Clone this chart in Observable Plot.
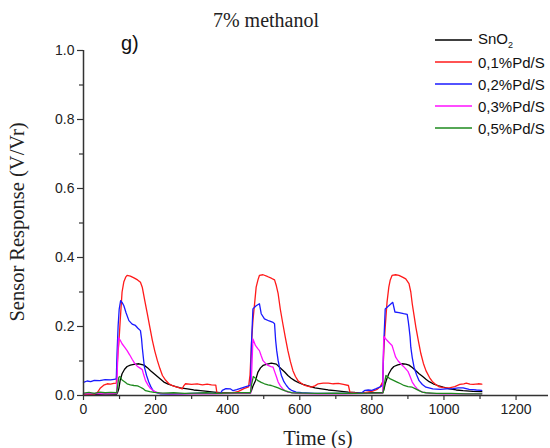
<!DOCTYPE html>
<html>
<head>
<meta charset="utf-8">
<script src="https://cdn.jsdelivr.net/npm/d3@7"></script>
<script src="https://cdn.jsdelivr.net/npm/@observablehq/plot@0.6"></script>
<style>
  html, body { margin: 0; padding: 0; background: #fff; }
  #wrap { position: relative; width: 550px; height: 448px; overflow: hidden; }
  .serif { font-family: "Liberation Serif", "Times New Roman", serif; color: #222; position: absolute; white-space: nowrap; }
  .sans { font-family: "Liberation Sans", Arial, sans-serif; color: #111; position: absolute; white-space: nowrap; }
  #legend { position: absolute; left: 435px; top: 29px; font-family: "Liberation Sans", Arial, sans-serif; font-size: 15px; color: #111; }
  #legend .row { display: flex; align-items: center; height: 22px; }
  #legend .row span { margin-left: 6px; }
</style>
</head>
<body>
<div id="wrap"></div>
<script>
// ---- data (time in s, response V/Vr) ----
const seriesNames = ["SnO2", "0,1%Pd/S", "0,2%Pd/S", "0,3%Pd/S", "0,5%Pd/S"];
const seriesColors = ["#000000", "#ff1a1a", "#1a1aff", "#ff10ff", "#1e8a1e"];
const xTicks = [0, 200, 400, 600, 800, 1000, 1200];
const xMinorTicks = [100, 300, 500, 700, 900, 1100];
const yTicks = [0, 0.2, 0.4, 0.6, 0.8, 1.0];
const yMinorTicks = [0.1, 0.3, 0.5, 0.7, 0.9];

const snO2 = [[0,0.004],[30,0.003],[60,0.004],[92,0.004],[95,0.01],[98,0.02],[102,0.045],[107,0.063],[114,0.076],[121,0.084],[130,0.088],[140,0.09],[154,0.092],[168,0.088],[178,0.08],[186,0.072],[196,0.063],[205,0.055],[214,0.047],[223,0.039],[235,0.033],[246,0.029],[258,0.025],[269,0.022],[288,0.019],[306,0.016],[325,0.014],[344,0.012],[362,0.01],[380,0.008],[420,0.007],[462,0.007],[466,0.014],[470,0.027],[477,0.043],[484,0.068],[491,0.08],[498,0.087],[510,0.091],[521,0.094],[535,0.091],[549,0.077],[558,0.068],[567,0.058],[576,0.05],[586,0.043],[597,0.037],[609,0.032],[625,0.027],[642,0.022],[660,0.019],[679,0.016],[698,0.014],[716,0.012],[735,0.01],[753,0.009],[790,0.008],[830,0.008],[833,0.015],[837,0.034],[842,0.05],[847,0.063],[854,0.076],[861,0.084],[872,0.089],[884,0.092],[894,0.091],[903,0.088],[912,0.081],[922,0.072],[931,0.063],[941,0.055],[950,0.047],[959,0.04],[970,0.034],[983,0.029],[998,0.024],[1015,0.019],[1034,0.016],[1053,0.014],[1080,0.012],[1105,0.011]];

const pd01 = [[0,0.003],[15,0.004],[30,0.004],[38,0.008],[47,0.022],[56,0.03],[66,0.034],[75,0.033],[84,0.035],[91,0.036],[93,0.08],[96,0.13],[98,0.15],[102,0.22],[107,0.3],[112,0.33],[117,0.343],[121,0.348],[130,0.346],[140,0.341],[150,0.335],[158,0.328],[163,0.314],[170,0.275],[177,0.237],[184,0.198],[191,0.16],[198,0.128],[205,0.101],[212,0.078],[219,0.058],[228,0.044],[237,0.034],[248,0.028],[260,0.024],[274,0.019],[278,0.028],[283,0.034],[300,0.032],[315,0.034],[330,0.031],[343,0.033],[355,0.031],[367,0.03],[370,0.008],[390,0.006],[410,0.007],[430,0.012],[445,0.02],[458,0.025],[462,0.06],[466,0.15],[470,0.217],[475,0.27],[479,0.314],[484,0.335],[488,0.348],[498,0.35],[510,0.345],[521,0.34],[530,0.335],[535,0.318],[540,0.295],[546,0.25],[553,0.208],[560,0.168],[567,0.13],[574,0.098],[581,0.072],[588,0.055],[595,0.043],[605,0.035],[614,0.029],[632,0.024],[642,0.028],[651,0.034],[665,0.036],[679,0.036],[693,0.034],[707,0.035],[721,0.032],[735,0.029],[739,0.01],[760,0.007],[780,0.008],[800,0.012],[815,0.018],[823,0.025],[830,0.04],[833,0.13],[837,0.198],[842,0.27],[847,0.314],[851,0.335],[856,0.348],[866,0.35],[875,0.348],[885,0.343],[894,0.338],[903,0.324],[908,0.3],[912,0.266],[917,0.232],[922,0.198],[929,0.158],[936,0.121],[943,0.093],[950,0.072],[960,0.052],[969,0.039],[978,0.031],[987,0.025],[1000,0.023],[1015,0.022],[1030,0.026],[1044,0.032],[1055,0.034],[1062,0.036],[1072,0.033],[1081,0.032],[1095,0.034],[1105,0.033]];

const pd02 = [[0,0.038],[10,0.042],[20,0.04],[30,0.044],[45,0.043],[60,0.046],[75,0.045],[85,0.047],[91,0.048],[93,0.12],[96,0.2],[99,0.25],[103,0.275],[107,0.27],[112,0.26],[118,0.24],[126,0.217],[135,0.207],[144,0.203],[151,0.195],[158,0.188],[161,0.165],[163,0.14],[166,0.11],[169,0.082],[175,0.058],[181,0.039],[187,0.025],[193,0.014],[203,0.008],[214,0.005],[240,0.004],[270,0.005],[300,0.006],[330,0.007],[360,0.006],[380,0.006],[385,0.015],[395,0.02],[408,0.019],[415,0.014],[425,0.017],[440,0.022],[455,0.027],[463,0.03],[466,0.15],[470,0.251],[479,0.26],[488,0.266],[493,0.237],[502,0.222],[515,0.216],[526,0.212],[530,0.208],[533,0.16],[536,0.13],[540,0.101],[545,0.075],[549,0.058],[556,0.04],[563,0.029],[570,0.02],[577,0.015],[590,0.01],[605,0.008],[640,0.006],[680,0.006],[720,0.006],[760,0.007],[772,0.008],[781,0.015],[790,0.016],[800,0.015],[812,0.02],[823,0.025],[830,0.03],[833,0.15],[837,0.251],[847,0.26],[858,0.27],[864,0.242],[875,0.24],[888,0.237],[898,0.235],[901,0.215],[903,0.198],[906,0.17],[908,0.14],[912,0.11],[917,0.082],[924,0.06],[931,0.043],[940,0.032],[950,0.024],[969,0.019],[990,0.018],[1006,0.019],[1025,0.02],[1040,0.022],[1053,0.022],[1070,0.018],[1090,0.016],[1105,0.015]];

const pd03 = [[0,0.005],[30,0.006],[60,0.005],[92,0.006],[94,0.08],[97,0.168],[102,0.16],[107,0.15],[114,0.14],[121,0.13],[128,0.118],[135,0.105],[142,0.093],[149,0.085],[156,0.08],[163,0.075],[167,0.06],[172,0.043],[179,0.03],[186,0.02],[196,0.012],[210,0.007],[240,0.005],[300,0.005],[360,0.005],[420,0.006],[464,0.007],[467,0.08],[470,0.164],[477,0.145],[484,0.135],[488,0.13],[493,0.115],[498,0.101],[505,0.093],[512,0.087],[520,0.084],[526,0.082],[530,0.07],[535,0.055],[540,0.039],[546,0.028],[553,0.019],[560,0.013],[567,0.01],[590,0.006],[650,0.005],[720,0.005],[790,0.006],[830,0.007],[831,0.08],[833,0.171],[842,0.16],[849,0.152],[856,0.145],[861,0.128],[866,0.111],[873,0.1],[880,0.092],[887,0.085],[894,0.077],[900,0.07],[903,0.063],[908,0.05],[912,0.039],[919,0.028],[926,0.019],[934,0.013],[941,0.01],[960,0.006],[1000,0.005],[1050,0.005],[1105,0.005]];

const pd05 = [[0,0.007],[15,0.009],[30,0.006],[45,0.01],[60,0.008],[75,0.009],[92,0.008],[95,0.03],[98,0.053],[101,0.055],[107,0.045],[114,0.04],[121,0.034],[130,0.031],[140,0.029],[150,0.028],[158,0.024],[165,0.02],[172,0.014],[184,0.011],[196,0.009],[220,0.007],[250,0.008],[280,0.006],[310,0.007],[340,0.008],[370,0.006],[400,0.007],[430,0.008],[463,0.008],[466,0.03],[471,0.055],[477,0.05],[484,0.043],[493,0.038],[502,0.034],[512,0.031],[521,0.029],[530,0.026],[540,0.022],[549,0.018],[558,0.014],[567,0.011],[577,0.008],[610,0.007],[650,0.006],[700,0.007],[750,0.006],[800,0.007],[831,0.008],[834,0.03],[839,0.058],[845,0.053],[851,0.048],[860,0.044],[870,0.039],[880,0.034],[889,0.029],[900,0.026],[912,0.024],[920,0.02],[931,0.014],[940,0.01],[950,0.008],[980,0.006],[1020,0.006],[1060,0.005],[1105,0.005]];

const allSeries = [snO2, pd01, pd02, pd03, pd05];

// ---- chart ----
const wrap = document.getElementById("wrap");
const lineMarks = allSeries.map((s, i) =>
  Plot.line(s, {x: d => d[0], y: d => d[1], stroke: seriesColors[i], strokeWidth: 1.3, curve: "linear"})
);

const chart = Plot.plot({
  width: 550,
  height: 448,
  marginLeft: 83,
  marginRight: 2,
  marginTop: 50,
  marginBottom: 53,
  style: {fontFamily: "'Liberation Sans', Arial, sans-serif", fontSize: "14px", color: "#222", background: "#fff"},
  x: {domain: [0, 1290]},
  y: {domain: [0, 1]},
  marks: [
    ...lineMarks,
    Plot.axisY({ticks: yTicks, tickFormat: d3.format(".1f"), tickSize: 6, tickPadding: 3, label: null, stroke: "#333", strokeWidth: 1.2}),
    Plot.axisY({ticks: yMinorTicks, tickFormat: () => "", tickSize: 4, label: null, stroke: "#333", strokeWidth: 1.2}),
    Plot.axisX({ticks: xTicks, tickFormat: d => String(d), tickSize: 5, tickPadding: 4, label: null, stroke: "#333", strokeWidth: 1.2}),
    Plot.axisX({ticks: xMinorTicks, tickFormat: () => "", tickSize: 4, label: null, stroke: "#333", strokeWidth: 1.2}),
    Plot.ruleX([0], {stroke: "#333", strokeWidth: 1.5}),
    Plot.ruleY([0], {stroke: "#333", strokeWidth: 1.5})
  ]
});
wrap.appendChild(chart);

function addText(cls, text, styles) {
  const d = document.createElement("div");
  d.className = cls;
  d.innerHTML = text;
  Object.assign(d.style, styles);
  wrap.appendChild(d);
  return d;
}
addText("serif", "7% methanol", {left: "266px", top: "20px", fontSize: "20px", transform: "translate(-50%,-50%)"});
addText("serif", "Time (s)", {left: "318px", top: "438px", fontSize: "20.5px", transform: "translate(-50%,-50%)"});
addText("serif", "Sensor Response (V/Vr)", {left: "17px", top: "222px", fontSize: "20.5px", transform: "translate(-50%,-50%) rotate(-90deg)"});
addText("sans", "g)", {left: "121px", top: "32px", fontSize: "20px"});

// legend
const legend = document.createElement("div");
legend.id = "legend";
seriesNames.forEach((name, i) => {
  const row = document.createElement("div");
  row.className = "row";
  const label = name === "SnO2" ? "SnO<sub style='font-size:9px'>2</sub>" : name;
  row.innerHTML = `<svg width="37" height="4"><line x1="0" y1="2" x2="37" y2="2" stroke="${seriesColors[i]}" stroke-width="1.4"/></svg><span>${label}</span>`;
  legend.appendChild(row);
});
wrap.appendChild(legend);
</script>
</body>
</html>
